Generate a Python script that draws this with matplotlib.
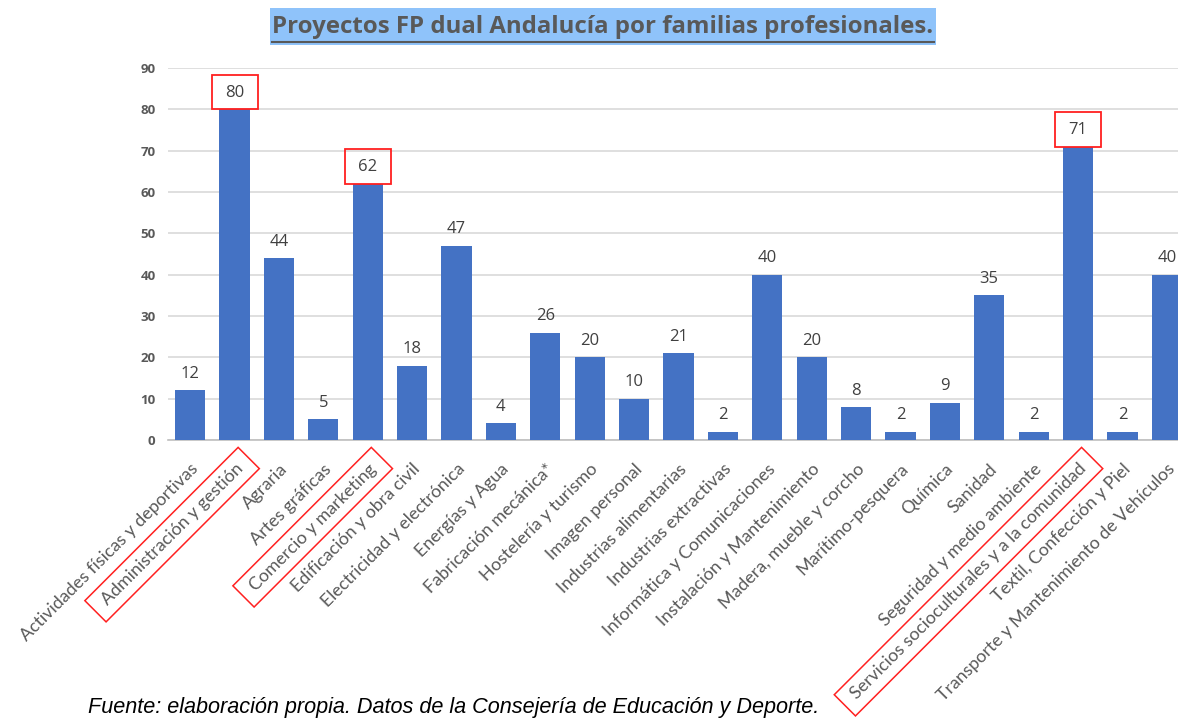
import numpy as np
import matplotlib.pyplot as plt
import matplotlib.transforms as mtransforms
from matplotlib.patches import Rectangle, Polygon

# %% Data
familias = ['Actividades físicas y deportivas', 'Administración y gestión', 'Agraria',
            'Artes gráficas', 'Comercio y marketing', 'Edificación y obra civil',
            'Electricidad y electrónica', 'Energías y Agua', 'Fabricación mecánica*',
            'Hostelería y turismo', 'Imagen personal', 'Industrias alimentarias',
            'Industrias extractivas', 'Informática y Comunicaciones',
            'Instalación y Mantenimiento', 'Madera, mueble y corcho', 'Marítimo-pesquera',
            'Química', 'Sanidad', 'Seguridad y medio ambiente',
            'Servicios socioculturales y a la comunidad', 'Textil, Confección y Piel',
            'Transporte y Mantenimiento de Vehículos']
proyectos = [12, 80, 44, 5, 62, 18, 47, 4, 26, 20, 10, 21, 2, 40, 20, 8, 2, 9, 35, 2, 71, 2, 40]
destacados = [1, 4, 20]
yticks = list(range(0, 100, 10))

# %% Plot
W, H = 1178, 719
fig = plt.figure(figsize=(W / 100, H / 100), dpi=100)
ax = fig.add_axes([168 / W, 1 - 440 / H, (1189 - 168) / W, 372 / H])

x = np.arange(len(familias))
ax.bar(x, proyectos, width=0.68, color='#4472C4', zorder=3)
ax.set_xlim(-0.5, len(familias) - 0.5)
ax.set_ylim(0, 90)
ax.set_yticks(yticks)
ax.set_yticklabels([str(t) for t in yticks], fontsize=9.5, fontweight='bold',
                   color='#595959', family='Open Sans')
ax.tick_params(axis='y', length=0, pad=9)
ax.tick_params(axis='x', length=0, pad=15)
ax.grid(axis='y', color='#d9d9d9', linewidth=1.2, zorder=0)
for s in ['top', 'right', 'left']:
    ax.spines[s].set_visible(False)
ax.spines['bottom'].set_color('#bfbfbf')
ax.spines['bottom'].set_linewidth(1.2)

ax.set_xticks(x)
ax.set_xticklabels(familias, rotation=45, ha='right', va='top', rotation_mode='anchor',
                   fontsize=12.8, color='#595959', family='Lato')

for i, v in enumerate(proyectos):
    ax.annotate(str(v), (i, v), xytext=(0, 6), textcoords='offset points',
                ha='center', va='bottom', fontsize=12, color='#404040',
                family='Open Sans', zorder=5)

# red frames on the largest families
for i in destacados:
    ax.add_patch(Rectangle((i - 0.52, proyectos[i]), 1.04, 8.4, fill=False,
                           edgecolor='#ff2020', linewidth=1.3, clip_on=False, zorder=6))

# red frames around their tick labels, built from the rotated text box
fig.canvas.draw()
renderer = fig.canvas.get_renderer()
c = s = np.sqrt(0.5)
u = np.array([c, s])
v = np.array([-s, c])
for i in destacados:
    lbl = ax.get_xticklabels()[i]
    tmp = fig.text(0, 0, lbl.get_text(), fontproperties=lbl.get_fontproperties())
    h = tmp.get_window_extent(renderer).height
    tmp.remove()
    bb = lbl.get_window_extent(renderer)
    p0 = np.array([bb.x0 + h * s, bb.y0])
    w = (bb.x1 - p0[0]) / c
    a, b = 12, 7
    verts = [p0 - a * u - b * v, p0 + (w + a) * u - b * v,
             p0 + (w + a) * u + (h + b) * v, p0 - a * u + (h + b) * v]
    fig.add_artist(Polygon(verts, closed=True, fill=False, edgecolor='#ff2020',
                           linewidth=1.1, transform=mtransforms.IdentityTransform()))

# title with highlight and underline
fig.add_artist(Rectangle((270 / W, 1 - 45 / H), (936 - 270) / W, 37 / H,
                         facecolor='#8fc3fa', edgecolor='none', transform=fig.transFigure))
t = fig.text(603 / W, 1 - 27 / H, 'Proyectos FP dual Andalucía por familias profesionales.',
             ha='center', va='center', fontsize=17.3, fontweight='bold', color='#595959',
             family='Open Sans')
tb = t.get_window_extent(renderer)
fig.add_artist(plt.Line2D([tb.x0, tb.x1], [H - 42, H - 42], color='#595959', linewidth=1.5,
                          transform=mtransforms.IdentityTransform()))

fig.text(88 / W, 1 - 707 / H,
         'Fuente: elaboración propia. Datos de la Consejería de Educación y Deporte.',
         ha='left', va='center', fontsize=15.6, style='italic', color='#000000',
         family='Liberation Sans')

plt.savefig('out.png', dpi=100)
